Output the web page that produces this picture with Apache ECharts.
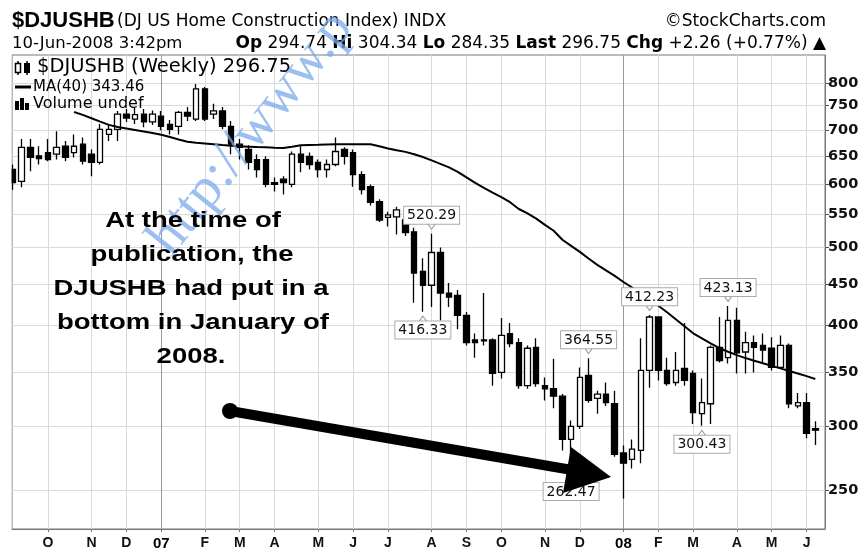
<!DOCTYPE html>
<html><head><meta charset="utf-8">
<script src="https://cdn.jsdelivr.net/npm/echarts@6/dist/echarts.min.js"></script>
<style>html,body{margin:0;padding:0;background:#fff}#c{width:863px;height:552px}</style>
</head><body><div id="c"></div>
<script>
// ---------- data ----------
const WEEKS = ['2006-09-04','2006-09-11','2006-09-18','2006-09-25','2006-10-02','2006-10-09','2006-10-16','2006-10-23','2006-10-30','2006-11-06','2006-11-13','2006-11-20','2006-11-27','2006-12-04','2006-12-11','2006-12-18','2006-12-25',
'2007-01-01','2007-01-08','2007-01-15','2007-01-22','2007-01-29','2007-02-05','2007-02-12','2007-02-19','2007-02-26','2007-03-05','2007-03-12','2007-03-19','2007-03-26','2007-04-02','2007-04-09','2007-04-16','2007-04-23','2007-04-30','2007-05-07','2007-05-14','2007-05-21','2007-05-28','2007-06-04','2007-06-11','2007-06-18','2007-06-25','2007-07-02','2007-07-09','2007-07-16','2007-07-23','2007-07-30','2007-08-06','2007-08-13','2007-08-20','2007-08-27','2007-09-03','2007-09-10','2007-09-17','2007-09-24','2007-10-01','2007-10-08','2007-10-15','2007-10-22','2007-10-29','2007-11-05','2007-11-12','2007-11-19','2007-11-26','2007-12-03','2007-12-10','2007-12-17','2007-12-24','2007-12-31',
'2008-01-07','2008-01-14','2008-01-21','2008-01-28','2008-02-04','2008-02-11','2008-02-18','2008-02-25','2008-03-03','2008-03-10','2008-03-17','2008-03-24','2008-03-31','2008-04-07','2008-04-14','2008-04-21','2008-04-28','2008-05-05','2008-05-12','2008-05-19','2008-05-26','2008-06-02','2008-06-09'];

const OPEN  = [625,604,666,650,656,653,668,656,672,653,638,691,701,732,722,732,716,
728,711,707,736,722,787,732,739,707,672,662,643,643,602,608,599,653,649,638,625,634,662,656,616,595,570,545,546,541,523,467,449,493,439,436,412,384,383,384,350,391,381,337,376,337,334,327,289,300,347,325,329,320,
278,273,280,352,410,352,340,354,349,311,320,376,365,406,371,381,378,375,355,378,318,321,298];
const CLOSE = [602,666,647,645,643,666,647,668,640,638,701,701,732,724,731,716,732,
707,701,736,728,787,722,739,707,672,666,638,625,599,599,602,653,638,634,625,634,658,649,616,590,569,541,549,557,522,465,449,493,439,434,412,381,381,384,349,389,380,337,375,339,334,327,289,300,345,323,329,321,277,
270,281,352,410,352,339,352,342,312,321,376,362,406,370,381,376,373,355,378,320,321,294,296.75];
const LOW   = [590,594,622,634,640,643,640,647,634,613,634,678,678,716,712,705,710,
699,691,691,718,718,718,722,701,653,643,625,611,594,587,582,594,620,625,611,611,631,634,595,582,564,538,531,519,517,427,416.33,422,406,422,396,378,365,378,337,344,376,334,334,336,323,316,280,262.47,298,321,311,318,275,
244,266,270,335,342,337,337,337,302,300.43,302,360,359,349,349,350,359,352,354,316,316,290,284.35];
const HIGH  = [634,682,682,668,682,697,678,691,685,662,712,712,739,743,746,743,740,
739,720,739,747,798,791,754,747,718,682,670,653,649,611,613,658,668,656,643,643,685,666,662,622,599,574,554,562,554,529,485,520.29,500,452,443,416,391,439,386,409,403,386,378,386,345,364,329,305,355,364.55,332,340,332,
284,289,386,412.23,410,365,371,403,352,344,378,410,423.13,421,393,389,391,387,389,380,330,330,304.34];

// 40-week moving average (null where the line is not drawn)
const MA40 = [null,null,null,null,null,null,null,736.5,730.6,723.7,716.7,710,705.6,702.6,699.6,696.6,693.6,
690.2,685.7,681,676.5,674.5,673.3,672,670.3,668.7,667.8,667.2,666.6,666.2,665,664.5,667,669.8,670.4,670.8,671.4,671.8,671.8,671.8,671.8,671.8,668,663.7,660.3,657.3,652.8,647.7,641.6,635.2,628.8,620.9,611,601.6,593,585.2,577.7,569.2,558.3,551.3,543.2,533.5,524.7,511.3,502.5,493.9,484.6,475.9,468.4,461.1,
453.2,446.1,438.6,430.9,423.4,415.7,407.5,399.3,391.4,385.8,380.3,375,371.3,367.7,364.6,361.9,359.2,356.6,354,351.4,348.9,346.3,343.46];

const PRICE_TICKS = [250,300,350,400,450,500,550,600,650,700,750,800];
const MONTH_TICKS = ['2006-10-02','2006-11-06','2006-12-04','2007-01-01','2007-02-05','2007-03-05','2007-04-02','2007-05-07','2007-06-04','2007-07-02','2007-08-06','2007-09-03','2007-10-01','2007-11-05','2007-12-03','2008-01-07','2008-02-04','2008-03-03','2008-04-07','2008-05-05','2008-06-02'];
const MONTH_LABELS = ['O','N','D','07','F','M','A','M','J','J','A','S','O','N','D','08','F','M','A','M','J'];
const YEAR_LINES = ['2007-01-01','2008-01-07'];

const CALLOUT_WEEKS  = ['2007-08-06','2007-07-30','2007-12-10','2007-11-26','2008-01-28','2008-03-31','2008-03-10'];
const CALLOUT_VALUES = [520.29,416.33,364.55,262.47,412.23,423.13,300.43];
const CALLOUT_ABOVE  = [true,false,true,false,true,true,false];

// ---------- build ----------
function ts(s){const p=s.split('-').map(Number);return Date.UTC(p[0],p[1]-1,p[2]);}
const candleData = WEEKS.map((w,i)=>[ts(w),OPEN[i],CLOSE[i],LOW[i],HIGH[i]]);
const maData = WEEKS.map((w,i)=>[ts(w),MA40[i]]).filter(d=>d[1]!=null);
const monthTs = MONTH_TICKS.map(ts);
const labelByTs = {}; monthTs.forEach((t,i)=>labelByTs[t]=MONTH_LABELS[i]);

const calloutData = CALLOUT_WEEKS.map((w,i)=>{
  const up = CALLOUT_ABOVE[i];
  return {
    coord:[ts(w),CALLOUT_VALUES[i]], value:CALLOUT_VALUES[i],
    symbol:'triangle', symbolSize:[10,7], symbolRotate: up?180:0, symbolOffset:[0, up?-8:8],
    itemStyle:{color:'#fff',borderColor:'#999',borderWidth:1},
    label:{show:true, position: up?'top':'bottom', distance:-2,
      formatter: CALLOUT_VALUES[i].toFixed(2),
      backgroundColor:'#fff', borderColor:'#aaa', borderWidth:1, padding:[2,3,1,3],
      fontFamily:'DejaVu Sans', fontSize:14, color:'#111'}
  };
});

const chart = echarts.init(document.getElementById('c'), null, {renderer:'canvas'});
const FONT = '"Liberation Sans", Arial, sans-serif';
const DV = '"DejaVu Sans", sans-serif';
const HOUR = 3600000;
const option = {
  animation:false,
  backgroundColor:'#fff',
  grid:{left:12,right:38,top:55,bottom:23,show:true,borderColor:'#777',borderWidth:1,backgroundColor:'transparent'},
  xAxis:{
    type:'value', min: ts('2006-09-03')+5*HOUR, max: ts('2008-06-16')+19*HOUR, scale:true,
    axisLine:{show:true,lineStyle:{color:'#777'}},
    axisTick:{show:true,customValues:monthTs,length:3,lineStyle:{color:'#777'}},
    axisLabel:{customValues:monthTs, margin:7, color:'#111', fontFamily:FONT, fontSize:14, fontWeight:'bold',
      formatter:function(v){const l=labelByTs[v]; if(l==null) return ''; return /\d/.test(l)?'{y|'+l+'}':l;},
      rich:{y:{fontFamily:FONT,fontSize:15,fontWeight:900,color:'#000'}}},
    splitLine:{show:true,lineStyle:{color:'#dadada',width:1}}
  },
  yAxis:{
    type:'log', logBase:10, position:'right', min:223.7, max:867,
    axisLine:{show:true,lineStyle:{color:'#777'}},
    axisTick:{show:true,customValues:PRICE_TICKS,length:4,lineStyle:{color:'#555'}},
    axisLabel:{customValues:PRICE_TICKS, margin:3, color:'#111', fontFamily:DV, fontSize:14.5, fontWeight:'bold'},
    splitLine:{show:true,lineStyle:{color:'#dadada',width:1}}
  },
  series:[
    {
      type:'candlestick', name:'$DJUSHB', data:candleData, encode:{x:0,y:[1,2,3,4]},
      barWidth:6, clip:true, z:3,
      itemStyle:{color:'#fff',color0:'#000',borderColor:'#000',borderColor0:'#000',borderColorDoji:'#000',borderWidth:1.3},
      markLine:{silent:true,z:1,symbol:['none','none'],label:{show:false},lineStyle:{color:'#9a9a9a',type:'solid',width:1},
        data:YEAR_LINES.map(d=>({xAxis:ts(d)}))},
      markPoint:{silent:true, z:6, data:calloutData}
    },
    {
      type:'line', name:'MA(40)', data:maData, symbol:'none', smooth:false,
      lineStyle:{color:'#000',width:2}, z:4
    }
  ],
  graphic:[
    // mask for the part of the first weekly bar that falls left of the plot frame
    {type:'rect',z:40,shape:{x:0,y:55,width:11.5,height:474},style:{fill:'#fff'}},
    {type:'text',x:12,y:21,z:50,style:{text:'$DJUSHB',font:'bold 22px '+FONT,fill:'#000',textVerticalAlign:'middle'}},
    {type:'text',x:117,y:22,z:50,style:{text:'(DJ US Home Construction Index) INDX',font:'17px '+DV,fill:'#000',textVerticalAlign:'middle'}},
    {type:'text',x:826,y:22,z:50,style:{text:'©StockCharts.com',font:'17px '+DV,fill:'#000',textAlign:'right',textVerticalAlign:'middle'}},
    {type:'text',x:12,y:44,z:50,style:{text:'10-Jun-2008 3:42pm',font:'16.5px '+DV,fill:'#000',textVerticalAlign:'middle'}},
    {type:'text',x:826,y:44,z:50,style:{text:'{b|Op} 294.74 {b|Hi} 304.34 {b|Lo} 284.35 {b|Last} 296.75 {b|Chg} +2.26 (+0.77%) ▲',
      fontFamily:DV,fontSize:17,fill:'#000',textAlign:'right',textVerticalAlign:'middle',
      rich:{b:{fontFamily:DV,fontSize:17,fontWeight:'bold'}}}},
    {type:'line',z:50,shape:{x1:18,y1:61,x2:18,y2:75},style:{stroke:'#000',lineWidth:1.5}},
    {type:'rect',z:50,shape:{x:15.5,y:63.5,width:5,height:9},style:{fill:'#fff',stroke:'#000',lineWidth:1.5}},
    {type:'line',z:50,shape:{x1:27,y1:61,x2:27,y2:75},style:{stroke:'#000',lineWidth:1.5}},
    {type:'rect',z:50,shape:{x:24,y:63,width:6,height:10},style:{fill:'#000'}},
    {type:'text',x:37,y:67,z:50,style:{text:'$DJUSHB (Weekly) 296.75',font:'19.5px '+DV,fill:'#000',textVerticalAlign:'middle'}},
    {type:'line',z:50,shape:{x1:15,y1:87,x2:31,y2:87},style:{stroke:'#000',lineWidth:3}},
    {type:'text',x:33,y:87,z:50,style:{text:'MA(40) 343.46',font:'15px '+DV,fill:'#000',textVerticalAlign:'middle'}},
    {type:'rect',z:50,shape:{x:15,y:101,width:4,height:9},style:{fill:'#000'}},
    {type:'rect',z:50,shape:{x:20,y:98,width:4,height:12},style:{fill:'#000'}},
    {type:'rect',z:50,shape:{x:25,y:103,width:4,height:7},style:{fill:'#000'}},
    {type:'text',x:33,y:104,z:50,style:{text:'Volume undef',font:'16px '+DV,fill:'#000',textVerticalAlign:'middle'}},
    {type:'text',x:182,y:266,rotation:0.9,z:60,style:{text:'http://www.p',font:'56px "Liberation Serif"',fill:'rgba(120,170,235,0.75)',textVerticalAlign:'bottom'}},
    {type:'text',x:193,y:221,scaleX:1.25,z:70,style:{text:'At the time of',font:'bold 22px '+FONT,fill:'#000',textAlign:'center',textVerticalAlign:'middle'}},
    {type:'text',x:192,y:255,scaleX:1.25,z:70,style:{text:'publication, the',font:'bold 22px '+FONT,fill:'#000',textAlign:'center',textVerticalAlign:'middle'}},
    {type:'text',x:191,y:289,scaleX:1.25,z:70,style:{text:'DJUSHB had put in a',font:'bold 22px '+FONT,fill:'#000',textAlign:'center',textVerticalAlign:'middle'}},
    {type:'text',x:193,y:323,scaleX:1.25,z:70,style:{text:'bottom in January of',font:'bold 22px '+FONT,fill:'#000',textAlign:'center',textVerticalAlign:'middle'}},
    {type:'text',x:191,y:357,scaleX:1.25,z:70,style:{text:'2008.',font:'bold 22px '+FONT,fill:'#000',textAlign:'center',textVerticalAlign:'middle'}},
    {type:'line',shape:{x1:230,y1:411,x2:572,y2:470},style:{stroke:'#000',lineWidth:10},z:100},
    {type:'circle',shape:{cx:230,cy:411,r:8},style:{fill:'#000'},z:100},
    {type:'polygon',shape:{points:[[611,477],[571,447],[563,493]]},style:{fill:'#000'},z:100}
  ]
};
chart.setOption(option);
</script></body></html>
